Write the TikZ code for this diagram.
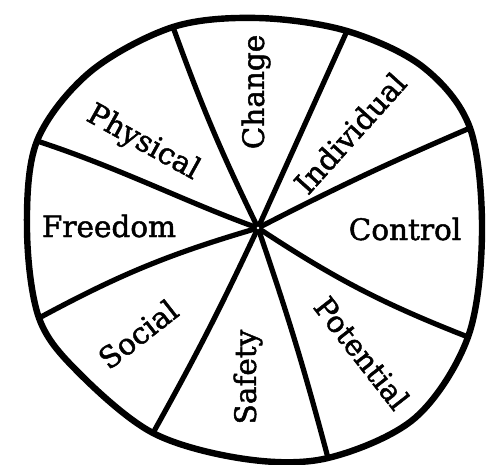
\documentclass[tikz,border=0pt]{standalone}
\usepackage{fontspec}
\newfontfamily\wheelfont[FakeBold=1.6]{DejaVu Serif}
\usetikzlibrary{positioning}

\begin{document}
\begin{tikzpicture}[x=1pt, y=-1pt,
    rim/.style={line width=6.4pt, line join=round},
    spoke/.style={line width=5.2pt, line cap=round},
    seg/.style={font=\wheelfont\fontsize{29.5}{31}\selectfont, inner sep=0pt}]
  \useasboundingbox (0,0) rectangle (493,464);
  % hub and the ends of the spokes on the rim
  \coordinate (hub) at (258,228);
  \coordinate (r1) at (173,27);
  \coordinate (r2) at (347,31);
  \coordinate (r3) at (470,128);
  \coordinate (r4) at (468,337);
  \coordinate (r5) at (328,458);
  \coordinate (r6) at (153,433);
  \coordinate (r7) at (39,318);
  \coordinate (r8) at (37,141);
  % the rim, drawn freehand through the spoke ends
  \draw[rim] plot[smooth cycle, tension=0.55] coordinates {
    (r1) (258,18) (r2) (423,67) (r3) (482,232) (r4) (415,418)
    (r5) (245,459) (r6) (78,372) (r7) (27,230) (r8) (90,72)};
  % spokes
  \draw[spoke] (hub) to[bend left=3] (r1);
  \draw[spoke] (hub) -- (r2);
  \draw[spoke] (hub) to[bend left=2] (r3);
  \draw[spoke] (hub) to[bend right=6] (r4);
  \draw[spoke] (hub) to[bend left=2] (r5);
  \draw[spoke] (hub) to[bend left=2] (r6);
  \draw[spoke] (hub) to[bend right=6] (r7);
  \draw[spoke] (hub) .. controls (190,204) and (120,168) .. (r8);
  \fill[white] (hub) circle (1.3pt);
  % segment labels
  \node[seg, rotate=90] (change) at (256,92) {Change};
  \node[seg, rotate=48] (individual) at (350,133) {Individual};
  \node[seg] (control) at (405,229) {Control};
  \node[seg, rotate=-52] (potential) at (362,353) {Potential};
  \node[seg, rotate=90] (safety) at (248,377) {Safety};
  \node[seg, rotate=38] (social) at (138,334) {Social};
  \node[seg] (freedom) at (109,226) {Freedom};
  \node[seg, rotate=-29] (physical) at (143,143) {Physical};
\end{tikzpicture}
\end{document}
